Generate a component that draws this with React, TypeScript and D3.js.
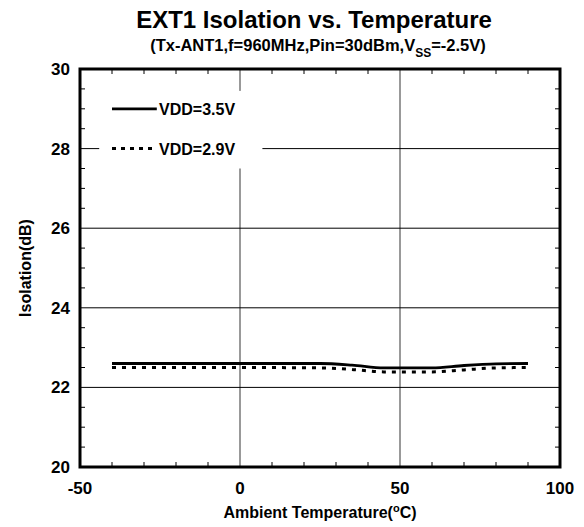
import React from 'react';
import * as d3 from 'd3';

const temps35 = [-40, -20, 0, 25, 35, 45, 60, 70, 80, 90];
const iso35 = [22.6, 22.6, 22.6, 22.6, 22.56, 22.49, 22.49, 22.55, 22.59, 22.6];
const temps29 = [-40, -20, 0, 25, 35, 45, 60, 70, 80, 90];
const iso29 = [22.5, 22.5, 22.5, 22.49, 22.45, 22.39, 22.39, 22.44, 22.49, 22.5];

const xTicks = [-50, 0, 50, 100];
const yTicks = [20, 22, 24, 26, 28, 30];
const xGrid = [0, 50];
const yGrid = [22, 24, 26, 28];

const seriesNames = ['VDD=3.5V', 'VDD=2.9V'];

const W = 584;
const H = 527;
const margin = { top: 69, right: 24, bottom: 60, left: 80 };
const font = '"Liberation Sans", Arial, sans-serif';

export default function App() {
  const x = d3.scaleLinear().domain([-50, 100]).range([margin.left, W - margin.right]);
  const y = d3.scaleLinear().domain([20, 30]).range([H - margin.bottom, margin.top]);
  const line = d3
    .line<[number, number]>()
    .x(d => x(d[0]))
    .y(d => y(d[1]))
    .curve(d3.curveMonotoneX);

  const s35 = temps35.map((t, i) => [t, iso35[i]] as [number, number]);
  const s29 = temps29.map((t, i) => [t, iso29[i]] as [number, number]);

  const minorX = d3.range(-40, 100, 10).filter(v => !xGrid.includes(v));
  const minorY = d3.range(20.5, 30, 0.5).filter(v => !yGrid.includes(v));

  const x0 = x.range()[0];
  const x1 = x.range()[1];
  const y0 = y.range()[0];
  const y1 = y.range()[1];

  // legend box (white, no border) hides the grid behind it
  const legX = x(-44);
  const legY = y(29.45);
  const legW = x(7) - legX;
  const legH = y(27.5) - legY;

  return (
    <svg width={W} height={H} style={{ position: 'absolute', left: 0, top: 0, fontFamily: font }}>
      <rect width={W} height={H} fill="#fff" />
      <text x={314} y={28} textAnchor="middle" fontSize={24} fontWeight="bold">
        EXT1 Isolation vs. Temperature
      </text>
      <text x={318} y={51} textAnchor="middle" fontSize={16.5} fontWeight="bold">
        (Tx-ANT1,f=960MHz,Pin=30dBm,V
        <tspan fontSize={12} dy={6}>SS</tspan>
        <tspan dy={-6}>=-2.5V)</tspan>
      </text>

      {/* grid */}
      {xGrid.map(v => (
        <line key={'gx' + v} x1={x(v)} x2={x(v)} y1={y1} y2={y0} stroke="#555" strokeWidth={1.2} />
      ))}
      {yGrid.map(v => (
        <line key={'gy' + v} x1={x0} x2={x1} y1={y(v)} y2={y(v)} stroke="#000" strokeWidth={1} />
      ))}

      {/* minor ticks, inward */}
      {minorX.map(v => (
        <g key={'mx' + v}>
          <line x1={x(v)} x2={x(v)} y1={y0} y2={y0 - 5} stroke="#000" />
          <line x1={x(v)} x2={x(v)} y1={y1} y2={y1 + 5} stroke="#000" />
        </g>
      ))}
      {minorY.map(v => (
        <g key={'my' + v}>
          <line x1={x0} x2={x0 + 5} y1={y(v)} y2={y(v)} stroke="#000" />
          <line x1={x1} x2={x1 - 5} y1={y(v)} y2={y(v)} stroke="#000" />
        </g>
      ))}

      <rect x={legX} y={legY} width={legW} height={legH} fill="#fff" />

      {/* series */}
      <path d={line(s35) ?? ''} fill="none" stroke="#000" strokeWidth={2.8} />
      <path d={line(s29) ?? ''} fill="none" stroke="#000" strokeWidth={3} strokeDasharray="4,6" />

      {/* legend */}
      {seriesNames.map((name, i) => {
        const ly = y(i === 0 ? 29 : 28);
        return (
          <g key={name}>
            <line
              x1={x(-40)}
              x2={x(-26)}
              y1={ly}
              y2={ly}
              stroke="#000"
              strokeWidth={i === 0 ? 2.8 : 3}
              strokeDasharray={i === 0 ? undefined : '4,5'}
            />
            <text x={x(-25.3)} y={ly + 6} fontSize={16} fontWeight="bold">
              {name}
            </text>
          </g>
        );
      })}

      {/* frame */}
      <rect x={x0} y={y1} width={x1 - x0} height={y0 - y1} fill="none" stroke="#000" strokeWidth={3} />

      {/* tick labels */}
      {xTicks.map(v => (
        <text key={'xt' + v} x={x(v)} y={y0 + 27} textAnchor="middle" fontSize={17} fontWeight="bold">
          {v}
        </text>
      ))}
      {yTicks.map(v => (
        <text key={'yt' + v} x={x0 - 10} y={y(v) + 6} textAnchor="end" fontSize={17} fontWeight="bold">
          {v}
        </text>
      ))}

      <text x={(x0 + x1) / 2} y={H - 9} textAnchor="middle" fontSize={16} fontWeight="bold">
        Ambient Temperature(
        <tspan fontSize={11} dy={-6}>o</tspan>
        <tspan dy={6}>C)</tspan>
      </text>
      <text
        transform={`translate(31,${(y0 + y1) / 2}) rotate(-90)`}
        textAnchor="middle"
        fontSize={16}
        fontWeight="bold"
      >
        Isolation(dB)
      </text>
    </svg>
  );
}
